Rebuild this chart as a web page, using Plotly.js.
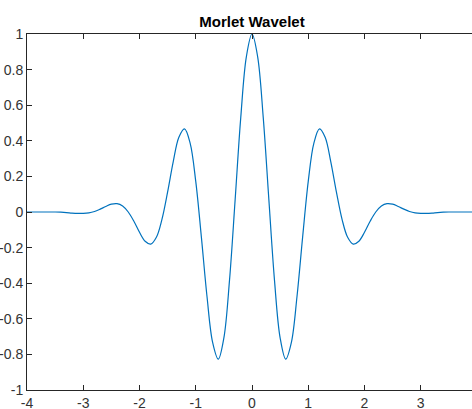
<!DOCTYPE html>
<html>
<head>
<meta charset="utf-8">
<script src="https://cdn.plot.ly/plotly-3.0.1.min.js"></script>
<style>
html,body{margin:0;padding:0;overflow:hidden;background:#fff;}
#chart{width:480px;height:409px;}
</style>
</head>
<body>
<div id="chart"></div>
<script>
// Values
var xValues = [
  -4.0,-3.9,-3.8,-3.7,-3.6,-3.5,-3.4,-3.3,-3.2,-3.1,
  -3.0,-2.9,-2.8,-2.7,-2.6,-2.5,-2.4,-2.3,-2.2,-2.1,
  -2.0,-1.9,-1.8,-1.7,-1.6,-1.5,-1.4,-1.3,-1.2,-1.1,
  -1.0,-0.9,-0.8,-0.7,-0.6,-0.5,-0.4,-0.3,-0.2,-0.1,
   0.0,
   0.1, 0.2, 0.3, 0.4, 0.5, 0.6, 0.7, 0.8, 0.9, 1.0,
   1.1, 1.2, 1.3, 1.4, 1.5, 1.6, 1.7, 1.8, 1.9, 2.0,
   2.1, 2.2, 2.3, 2.4, 2.5, 2.6, 2.7, 2.8, 2.9, 3.0,
   3.1, 3.2, 3.3, 3.4, 3.5, 3.6, 3.7, 3.8, 3.9, 4.0
];
var yValues = [
   0.000, 0.000, 0.000, 0.000, 0.000, 0.000,-0.001,-0.003,-0.006,-0.008,
  -0.008,-0.005, 0.003, 0.016, 0.031, 0.044, 0.047, 0.034, 0.000,-0.052,
  -0.114,-0.164,-0.180,-0.142,-0.040, 0.113, 0.283, 0.420, 0.467, 0.387,
   0.172,-0.141,-0.475,-0.733,-0.827,-0.707,-0.384, 0.068, 0.530, 0.873,
   1.000,
   0.873, 0.530, 0.068,-0.384,-0.707,-0.827,-0.733,-0.475,-0.141, 0.172,
   0.387, 0.467, 0.420, 0.283, 0.113,-0.040,-0.142,-0.180,-0.164,-0.114,
  -0.052, 0.000, 0.034, 0.047, 0.044, 0.031, 0.016, 0.003,-0.005,-0.008,
  -0.008,-0.006,-0.003,-0.001, 0.000, 0.000, 0.000, 0.000, 0.000, 0.000
];
var xTickVals = [-4,-3,-2,-1,0,1,2,3,4];
var xTickText = ['-4','-3','-2','-1','0','1','2','3','4'];
var yTickVals = [-1,-0.8,-0.6,-0.4,-0.2,0,0.2,0.4,0.6,0.8,1];
var yTickText = ['-1','-0.8','-0.6','-0.4','-0.2','0','0.2','0.4','0.6','0.8','1'];
var chartTitle = 'Morlet Wavelet';

var axisColor = '#262626';
var tickFont = {family: 'Liberation Sans, Arial, sans-serif', size: 14, color: '#333333'};

var trace = {
  x: xValues, y: yValues, type: 'scatter', mode: 'lines',
  line: {color: '#0072BD', width: 1.2, shape: 'spline', smoothing: 1},
  hoverinfo: 'none'
};

var layout = {
  width: 480, height: 409,
  margin: {l: 27, r: 3, t: 34, b: 19, pad: 0},
  paper_bgcolor: '#ffffff', plot_bgcolor: '#ffffff',
  showlegend: false,
  title: {text: '<b>' + chartTitle + '</b>', x: 0.5, xref: 'paper', y: 0.947, yanchor: 'middle',
          font: {family: 'Liberation Sans, Arial, sans-serif', size: 15, color: '#000'}},
  xaxis: {
    range: [-4, 4], tickmode: 'array', tickvals: xTickVals, ticktext: xTickText,
    ticks: 'inside', ticklen: 5, tickwidth: 1, tickcolor: axisColor,
    showline: true, linecolor: axisColor, linewidth: 1, mirror: 'ticks',
    showgrid: false, zeroline: false, tickfont: tickFont
  },
  yaxis: {
    range: [-1, 1], tickmode: 'array', tickvals: yTickVals, ticktext: yTickText,
    ticks: 'inside', ticklen: 5, tickwidth: 1, tickcolor: axisColor,
    showline: true, linecolor: axisColor, linewidth: 1, mirror: 'ticks',
    showgrid: false, zeroline: false, tickfont: tickFont
  }
};

Plotly.newPlot('chart', [trace], layout, {staticPlot: true, displayModeBar: false});
</script>
</body>
</html>
